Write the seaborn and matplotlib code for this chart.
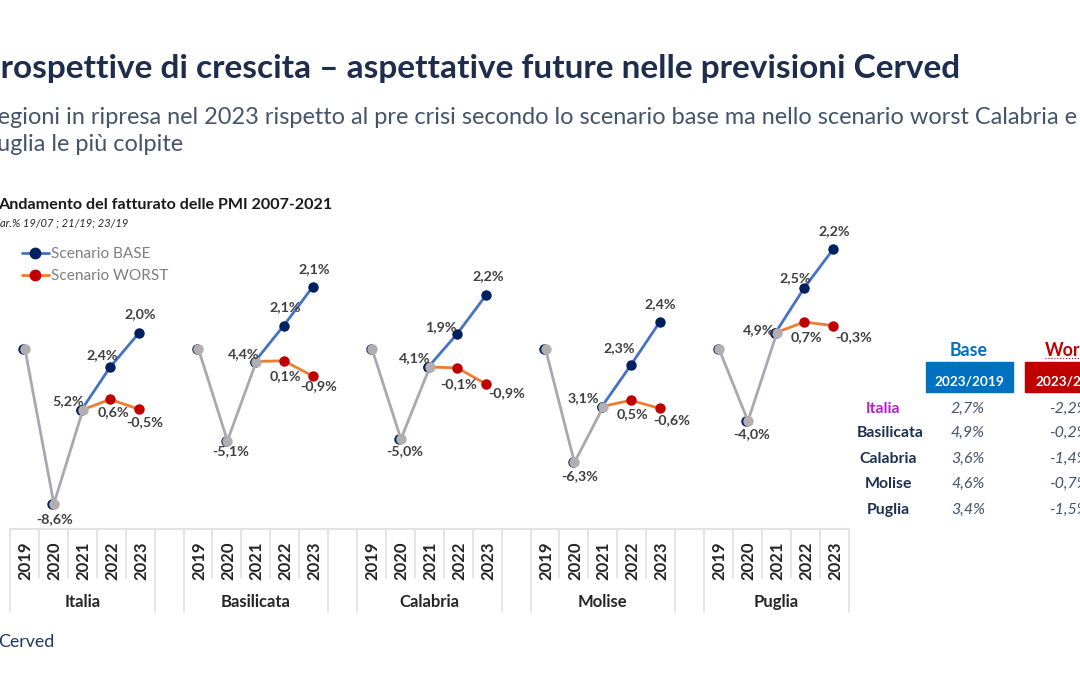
import matplotlib
matplotlib.use("Agg")
import matplotlib.pyplot as plt
from matplotlib.lines import Line2D
from matplotlib.patches import Rectangle
from matplotlib.transforms import ScaledTranslation
import pandas as pd
import seaborn as sns

W, H = 1080, 675

# data, cumulative level (2019 = 0)
regions = ["Italia", "Basilicata", "Calabria", "Molise", "Puglia"]
years = [2019, 2020, 2021, 2022, 2023]
base_levels = [
    [0.0, -8.6, -3.4, -1.0, 0.9],
    [0.0, -5.1, -0.7, 1.3, 3.45],
    [0.0, -5.0, -1.0, 0.85, 3.0],
    [0.0, -6.3, -3.2, -0.9, 1.5],
    [0.0, -4.0, 0.9, 3.4, 5.55],
]
worst_levels = [
    [-3.4, -2.8, -3.35],
    [-0.7, -0.65, -1.5],
    [-1.0, -1.05, -1.95],
    [-3.2, -2.85, -3.3],
    [0.9, 1.5, 1.3],
]
base_labels = [
    ["-8,6%", "5,2%", "2,4%", "2,0%"],
    ["-5,1%", "4,4%", "2,1%", "2,1%"],
    ["-5,0%", "4,1%", "1,9%", "2,2%"],
    ["-6,3%", "3,1%", "2,3%", "2,4%"],
    ["-4,0%", "4,9%", "2,5%", "2,2%"],
]
worst_labels = [
    ["0,6%", "-0,5%"],
    ["0,1%", "-0,9%"],
    ["-0,1%", "-0,9%"],
    ["0,5%", "-0,6%"],
    ["0,7%", "-0,3%"],
]
table_base = ["2,7%", "4,9%", "3,6%", "4,6%", "3,4%"]
table_worst = ["-2,2%", "-0,2%", "-1,4%", "-0,7%", "-1,5%"]

# label offsets from the point, in pixels (right, down)
base_offsets = [
    [(2, 15), (-13, -9), (-8, -12), (1, -19)],
    [(5, 10), (-11, -8), (1, -19), (2, -18)],
    [(5, 12), (-14, -9), (-16, -7), (2, -19)],
    [(7, 14), (-19, -9), (-12, -17), (1, -18)],
    [(5, 13), (-17, -3), (-9, -10), (1, -18)],
]
worst_offsets = [
    [(3, 13), (6, 13)],
    [(2, 15), (6, 10)],
    [(1, 16), (20, 9)],
    [(2, 14), (12, 12)],
    [(2, 15), (20, 11)],
]

NAVY = "#002060"
BLUE = "#4472C4"
ORANGE = "#ED7D31"
RED = "#C00000"
GREY = "#A9A8B0"
GREY_DOT = "#B3AFB0"
LABEL = "#404040"
TITLE = "#1F2D4D"
SUB = "#44546A"
SEP = "#E3E3E3"

sns.set_style("white")
plt.rcParams["font.family"] = ["Lato", "DejaVu Sans"]

fig = plt.figure(figsize=(W / 100, H / 100), dpi=100)


def fx(x):
    return x / W


def fy(y):
    return 1 - y / H


# axes: x covers px 9..848, y -10..7 covers px 529..223
ax = fig.add_axes([fx(9), fy(529), fx(838.7), (529 - 223) / H])
ax.patch.set_alpha(0)
shift = ax.transData + ScaledTranslation(1.5 / 100, 0, fig.dpi_scale_trans)

for i, region in enumerate(regions):
    pos = [6 * i + j for j in range(5)]
    base_df = pd.DataFrame({"pos": pos, "val": base_levels[i]})
    worst_df = pd.DataFrame({"pos": pos[2:], "val": worst_levels[i]})

    sns.lineplot(data=base_df.iloc[2:], x="pos", y="val", ax=ax, color=BLUE, lw=2,
                 marker="o", ms=7.5, mfc=NAVY, mec=NAVY, mew=0, errorbar=None)
    sns.lineplot(data=base_df.iloc[:3], x="pos", y="val", ax=ax, color=NAVY, lw=0,
                 marker="o", ms=7.5, mfc=NAVY, mec=NAVY, mew=0, errorbar=None)
    sns.lineplot(data=worst_df, x="pos", y="val", ax=ax, color=ORANGE, lw=2,
                 marker="o", ms=7.5, mfc=RED, mec=RED, mew=0, errorbar=None, markevery=[1, 2])
    sns.lineplot(data=base_df.iloc[:3], x="pos", y="val", ax=ax, color=GREY, lw=2,
                 marker="o", ms=7.5, mfc=GREY_DOT, mec=GREY_DOT, mew=0, errorbar=None,
                 transform=shift)

    for j, (txt, off) in enumerate(zip(base_labels[i], base_offsets[i])):
        ax.annotate(txt, (pos[j + 1], base_levels[i][j + 1]), xytext=(off[0], -off[1]),
                    textcoords="offset pixels", ha="center", va="center",
                    fontsize=10.3, fontweight="bold", color=LABEL, zorder=6)
    for j, (txt, off) in enumerate(zip(worst_labels[i], worst_offsets[i])):
        ax.annotate(txt, (pos[j + 3], worst_levels[i][j + 1]), xytext=(off[0], -off[1]),
                    textcoords="offset pixels", ha="center", va="center",
                    fontsize=10.3, fontweight="bold", color=LABEL, zorder=6)

ax.set_xlim(-0.5, 28.5)
ax.set_ylim(-10, 7)
ax.set_xlabel("")
ax.set_ylabel("")
ax.set_yticks([])
sns.despine(ax=ax, left=True, bottom=True)

ticks = [6 * i + j for i in range(len(regions)) for j in range(5)]
ax.set_xticks(ticks)
ax.set_xticklabels([str(y) for _ in regions for y in years], rotation=90,
                   fontsize=12, fontweight="bold", color="#262626")
ax.tick_params(axis="x", length=0, pad=9)
tick_shift = ScaledTranslation(2 / 100, 0, fig.dpi_scale_trans)
for lab in ax.get_xticklabels():
    lab.set_transform(lab.get_transform() + tick_shift)

# multi-level axis separators, 1 px right of the plotted categories
trans = ax.get_xaxis_transform() + ScaledTranslation(1 / 100, 0, fig.dpi_scale_trans)
axes_h = 529 - 223
for i, region in enumerate(regions):
    start = 6 * i - 0.5
    for j in range(1, 5):
        ax.plot([start + j] * 2, [0, -49 / axes_h], transform=trans, color=SEP, lw=1.3, clip_on=False)
    for edge in (start, start + 5):
        ax.plot([edge] * 2, [0, -83 / axes_h], transform=trans, color=SEP, lw=1.3, clip_on=False)
    ax.text(start + 2.5, -73 / axes_h, region, transform=trans, ha="center", va="center",
            fontsize=12, fontweight="bold", color="#262626")
ax.plot([-0.5, 28.5], [0, 0], transform=trans, color=SEP, lw=1.5, clip_on=False)

handles = [
    Line2D([], [], color=BLUE, lw=2, marker="o", ms=7.5, mfc=NAVY, mec=NAVY),
    Line2D([], [], color=ORANGE, lw=2, marker="o", ms=7.5, mfc=RED, mec=RED),
]
leg = ax.legend(handles, ["Scenario BASE", "Scenario WORST"], loc="upper left",
                bbox_to_anchor=(fx(22), fy(247)), bbox_transform=fig.transFigure,
                frameon=False, fontsize=11.1, labelcolor="#7F7F7F", handlelength=1.75,
                handletextpad=0.1, labelspacing=0.55, borderpad=0, borderaxespad=0)

# headings
fig.text(fx(-20), fy(78), "Prospettive di crescita – aspettative future nelle previsioni Cerved",
         fontsize=24, fontweight="bold", color=TITLE, va="baseline")
fig.text(fx(-17), fy(124), "Regioni in ripresa nel 2023 rispetto al pre crisi secondo lo scenario base ma nello scenario worst Calabria e",
         fontsize=16.9, color=SUB, va="baseline")
fig.text(fx(-17), fy(151), "Puglia le più colpite", fontsize=16.9, color=SUB, va="baseline")
fig.text(fx(-2), fy(209), "Andamento del fatturato delle PMI 2007-2021", fontsize=11.6,
         fontweight="bold", color="#1A1A1A", va="baseline")
fig.text(fx(-7), fy(226), "Var.% 19/07 ; 21/19; 23/19", fontsize=8, style="italic",
         color="#262626", va="baseline")
fig.text(fx(-2), fy(647), "Cerved", fontsize=12.8, color="#1F3864", va="baseline")

# small table on the right
fig.add_artist(Rectangle((fx(926), fy(392)), 87 / W, 30 / H, transform=fig.transFigure, color="#0070C0"))
fig.add_artist(Rectangle((fx(1025), fy(392)), 60 / W, 30 / H, transform=fig.transFigure, color=RED))
fig.text(fx(969), fy(350), "Base", fontsize=12.8, fontweight="bold", color="#0070C0", ha="center", va="center")
fig.text(fx(1045), fy(350), "Worst", fontsize=12.8, fontweight="bold", color=RED, ha="left", va="center")
fig.add_artist(Line2D([fx(1045), fx(1085)], [fy(358)] * 2, color=RED, lw=0.8, ls=":", transform=fig.transFigure))
fig.text(fx(969), fy(381), "2023/2019", fontsize=9.8, fontweight="bold", color="white", ha="center", va="center")
fig.text(fx(1035), fy(381), "2023/2019", fontsize=9.8, fontweight="bold", color="white", ha="left", va="center")

row_y = [409, 433, 459, 484, 510]
row_x = [883, 890, 888, 888, 888]
for i, region in enumerate(regions):
    fig.text(fx(row_x[i]), fy(row_y[i]), region, fontsize=11.4, fontweight="bold",
             color="#B51FD0" if i == 0 else "#1F3050", ha="center", va="center")
    fig.text(fx(968), fy(row_y[i]), table_base[i], fontsize=11.5, style="italic", color=SUB, ha="center", va="center")
    fig.text(fx(1049), fy(row_y[i]), table_worst[i], fontsize=11.5, style="italic", color=SUB, ha="left", va="center")

fig.savefig("out.png", dpi=100)
